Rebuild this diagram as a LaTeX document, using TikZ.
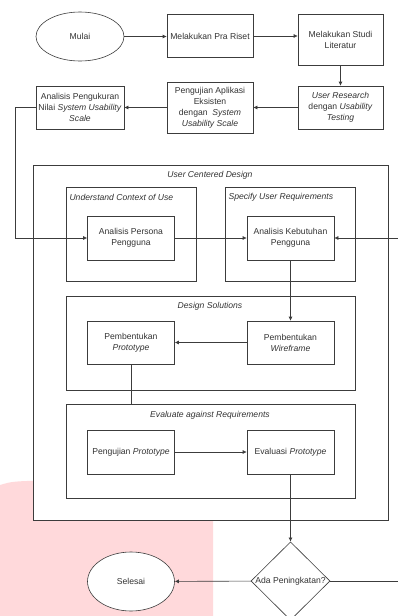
\documentclass[tikz,border=0pt]{standalone}
\usepackage{fontspec}
\setmainfont{Liberation Sans}
\usetikzlibrary{shapes.geometric,arrows.meta}
\definecolor{garis}{HTML}{3C3C3C}
\definecolor{teks}{HTML}{333333}
\definecolor{merahmuda}{RGB}{255,217,219}

\begin{document}
\begin{tikzpicture}[x=1pt, y=-1pt]
  \clip (0,0) rectangle (398,616);
  \fill [white] (0,0) rectangle (398,616);
  \fill [merahmuda] (0,616) -- (0,485) .. controls (12,481.5) .. (40,480.5) -- (213,478) -- (213,616) -- cycle;  % Latar merah muda.
  \tikzstyle{every node}=[font=\fontsize{8.6}{11}\selectfont, text=teks]
  \tikzstyle{proses}=[rectangle, draw=garis, line width=0.6pt, fill=white, align=center, inner sep=1pt, minimum width=87pt, minimum height=44pt]
  \tikzstyle{mulai}=[ellipse, draw=garis, line width=0.6pt, fill=white, minimum width=88pt, minimum height=49pt]
  \tikzstyle{grup}=[rectangle, draw=garis, line width=0.6pt, fill=white, inner sep=0pt]
  \tikzstyle{judul}=[font=\fontsize{8.6}{11}\selectfont\itshape]
  \tikzstyle{panah}=[draw=garis, line width=0.6pt, -{Latex[length=4pt, width=4pt]}]

  % Kotak grup.
  \node[grup, minimum width=355pt, minimum height=355pt] (ucd) at (210.5, 342.5) {};
  \node[grup, minimum width=130pt, minimum height=94pt]  (g1)  at (131,   234)   {};
  \node[grup, minimum width=130pt, minimum height=94pt]  (g2)  at (290,   234)   {};
  \node[grup, minimum width=289pt, minimum height=94pt]  (g3)  at (210.5, 343)   {};
  \node[grup, minimum width=289pt, minimum height=94pt]  (g4)  at (210.5, 451)   {};

  \node[judul]              (t0) at (210, 175) {User Centered Design};
  \node[judul, anchor=west] (t1) at (66,  197) {Understand Context of Use};
  \node[judul, anchor=west] (t2) at (225, 197) {Specify User Requirements};
  \node[judul]              (t3) at (210, 306) {Design Solutions};
  \node[judul]              (t4) at (210, 415) {Evaluate against Requirements};

  \node[mulai]                                             (1)  at (80,    36.5)  {Mulai};
  \node[proses, minimum width=86pt, minimum height=43pt]   (2)  at (210,   36)    {Melakukan Pra Riset};
  \node[proses, minimum width=85pt, minimum height=51pt]   (3)  at (340.5, 39.5)  {Melakukan Studi\\Literatur};
  \node[proses, minimum width=85pt, minimum height=43pt]   (4)  at (340.5, 107.5) {\textit{User Research}\\dengan \textit{Usability}\\\textit{Testing}};
  \node[proses, minimum width=86pt, minimum height=51pt]   (5)  at (210,   107.5) {Pengujian Aplikasi\\Eksisten\\dengan~ \textit{System}\\\textit{Usability Scale}};
  \node[proses, minimum width=88pt, minimum height=43pt]   (6)  at (80,    107.5) {Analisis Pengukuran\\Nilai \textit{System Usability}\\\textit{Scale}};
  \node[proses]                                            (7)  at (131,   238)   {Analisis Persona\\Pengguna};
  \node[proses]                                            (8)  at (290.5, 238)   {Analisis Kebutuhan\\Pengguna};
  \node[proses, minimum height=43pt]                       (9)  at (131,   342.5) {Pembentukan\\\textit{Prototype}};
  \node[proses, minimum height=43pt]                       (10) at (290.5, 342.5) {Pembentukan\\\textit{Wireframe}};
  \node[proses]                                            (11) at (131,   452)   {Pengujian \textit{Prototype}};
  \node[proses]                                            (12) at (290.5, 452)   {Evaluasi \textit{Prototype}};
  \node[diamond, draw=garis, line width=0.6pt, fill=white, inner sep=0pt, minimum width=79pt, minimum height=76pt] (13) at (290.5, 581) {Ada Peningkatan?};
  \node[mulai, minimum width=87pt, minimum height=59pt]    (14) at (131,   581.5) {Selesai};

  \coordinate (kiri)  at (15,  107.5);
  \coordinate (kanan) at (410, 581);

  \draw[panah] (1.east) -- (1.east -| 2.west);
  \draw[panah] (2.east) -- (2.east -| 3.west);
  \path (3)  edge[panah] (4);
  \path (4)  edge[panah] (5);
  \path (5)  edge[panah] (6);
  \draw[panah] (6.west) -- (kiri) |- (7.west);
  \path (7)  edge[panah] (8);
  \path (8)  edge[panah] (10);
  \path (10) edge[panah] (9);
  \draw[draw=garis, line width=0.6pt] (9.south) -- (9.south |- g4.north);
  \path (11) edge[panah] (12);
  \path (12) edge[panah] (13);
  \path (13) edge[panah] (14);
  \draw[panah] (13.east) -- (kanan) |- (8.east);
\end{tikzpicture}
\end{document}
